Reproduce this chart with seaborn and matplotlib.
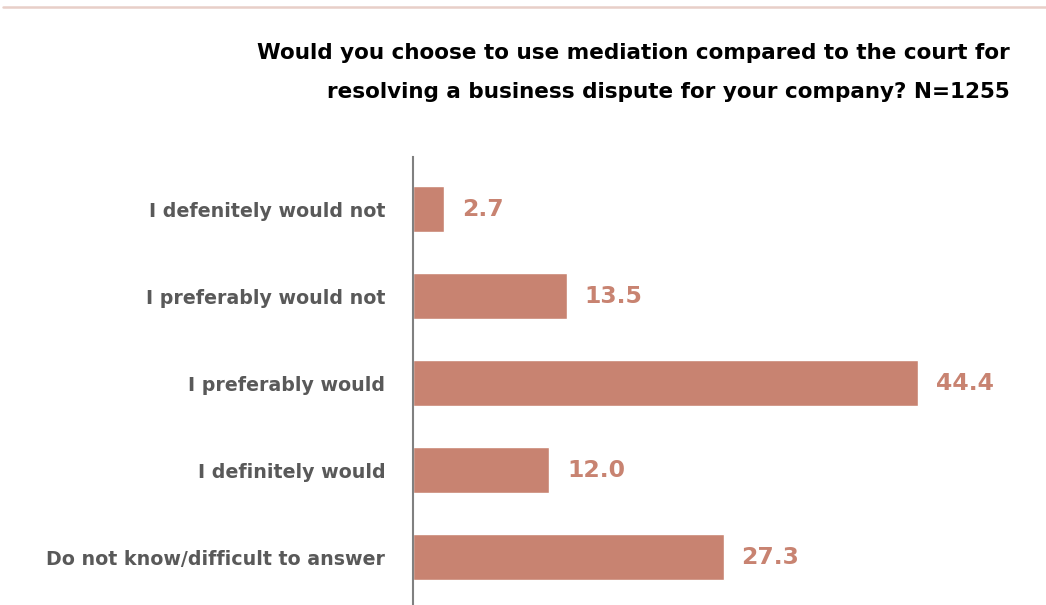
import matplotlib
matplotlib.use("Agg")
import matplotlib.pyplot as plt
import seaborn as sns
import pandas as pd

categories = [
    "I defenitely would not",
    "I preferably would not",
    "I preferably would",
    "I definitely would",
    "Do not know/difficult to answer",
]
shares = [2.7, 13.5, 44.4, 12.0, 27.3]
title_text = ("Would you choose to use mediation compared to the court for\n"
              "resolving a business dispute for your company? N=1255")

bar_color = "#C88371"

sns.set_theme(style="white")
plt.rcParams["font.family"] = ["DejaVu Sans"]

df = pd.DataFrame({"answer": categories, "share": shares})

fig = plt.figure(figsize=(10.46, 6.05), dpi=100)
ax = fig.add_axes([413 / 1046, 0.0, 568.7 / 1046, 448 / 605])

sns.barplot(data=df, x="share", y="answer", orient="h", color=bar_color,
            saturation=1, width=0.53, ax=ax)

ax.set_xlim(0, 50)
ax.set_ylim(4.549, -0.6)
ax.set_xlabel("")
ax.set_ylabel("")
ax.set_xticks([])

for side in ("top", "right", "bottom"):
    ax.spines[side].set_visible(False)
ax.spines["left"].set_color("#808080")
ax.spines["left"].set_linewidth(1.5)

ax.tick_params(axis="y", length=0, pad=20)
for lbl in ax.get_yticklabels():
    lbl.set_fontsize(13.7)
    lbl.set_fontweight("bold")
    lbl.set_color("#595959")

for container in ax.containers:
    ax.bar_label(container, labels=[f"{v:.1f}" for v in shares], padding=13,
                 fontsize=16.9, fontweight="bold", color=bar_color)

# two-line title; baseline of the second line sets the vertical anchor
fig.text(1010 / 1046, 1 - 98 / 605, title_text, ha="right", va="baseline",
         fontsize=15.5, fontweight="bold", color="black", linespacing=2.2)

# thin decorative rule along the top edge
fig.add_artist(plt.Line2D([3 / 1046, 1.0], [1 - 6.5 / 605, 1 - 6.5 / 605],
                          transform=fig.transFigure, color="#E8CFC8", linewidth=1.8))

fig.savefig("out.png", dpi=100)
